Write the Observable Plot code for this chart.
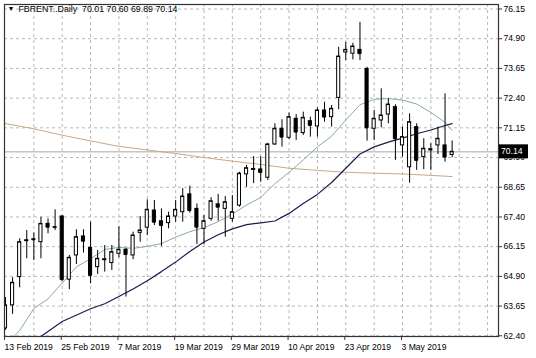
<!DOCTYPE html>
<html>
<head>
<meta charset="utf-8">
<script src="https://cdn.jsdelivr.net/npm/d3@7"></script>
<script src="https://cdn.jsdelivr.net/npm/@observablehq/plot@0.6"></script>
<style>
  html, body { margin: 0; padding: 0; background: #fff; overflow: hidden; }
  #chart { width: 536px; height: 358px; }
  #chart svg { display: block; }
</style>
</head>
<body>
<div id="chart"></div>
<script>
// ---- data ----
const titleText = "FBRENT..Daily  70.01 70.60 69.89 70.14";
const dateTickIdx = [0, 8, 16, 24, 32, 40, 48, 56];
const dateTickLabels = ["13 Feb 2019", "25 Feb 2019", "7 Mar 2019", "19 Mar 2019", "29 Mar 2019", "10 Apr 2019", "23 Apr 2019", "3 May 2019"];
const priceTicks = [62.40, 63.65, 64.90, 66.15, 67.40, 68.65, 69.90, 71.15, 72.40, 73.65, 74.90, 76.15];
const gridIdx = [4, 8, 12, 16, 20, 24, 28, 32, 36, 40, 44, 48, 52, 56, 60, 64, 68];
const lastPrice = 70.14;

const opens = [62.71, 63.68, 64.87, 66.38, 66.46, 66.34, 67.11, 66.95, 67.42, 64.76,
  65.78, 66.58, 66.10, 65.29, 65.58, 65.46, 65.85, 66.02, 65.78, 66.73,
  66.95, 67.67, 67.22, 67.14, 67.42, 67.60, 68.35, 67.74, 66.90, 67.32,
  67.93, 67.74, 67.32, 67.88, 69.19, 69.38, 69.40, 69.05, 70.45, 71.11,
  70.73, 71.53, 70.93, 71.43, 71.21, 71.88, 71.60, 72.41, 74.32, 74.27,
  74.43, 73.63, 71.11, 71.46, 71.71, 72.02, 70.41, 69.49, 71.18, 69.92,
  70.20, 70.41, 70.41, 70.01];
const highs = [64.01, 64.84, 66.48, 66.83, 66.72, 67.39, 67.32, 67.70, 67.45, 65.78,
  66.86, 66.86, 67.18, 65.99, 66.20, 66.20, 66.99, 66.08, 66.76, 67.42,
  68.12, 68.09, 67.74, 67.60, 68.09, 68.59, 68.70, 67.95, 67.46, 68.21,
  68.35, 68.26, 68.30, 69.28, 69.57, 69.94, 69.94, 70.50, 71.32, 71.49,
  71.77, 71.71, 71.81, 71.60, 71.99, 72.23, 72.09, 74.54, 74.75, 74.71,
  75.59, 73.70, 71.88, 72.79, 72.37, 72.12, 71.18, 71.74, 71.32, 70.69,
  70.48, 71.18, 72.58, 70.60];
const lows = [62.63, 63.30, 64.42, 65.64, 65.57, 65.64, 66.69, 66.83, 64.70, 64.34,
  65.40, 65.88, 64.59, 64.98, 65.08, 65.15, 65.68, 64.03, 65.60, 66.34,
  66.62, 67.04, 66.16, 66.90, 67.18, 67.18, 67.56, 66.24, 66.24, 67.22,
  67.22, 66.55, 67.18, 67.81, 68.65, 68.80, 68.86, 68.94, 70.41, 70.34,
  70.65, 70.62, 70.83, 70.76, 70.76, 71.39, 71.18, 71.91, 73.98, 74.01,
  73.98, 70.59, 70.62, 71.15, 71.32, 69.78, 69.92, 68.82, 69.36, 69.39,
  69.36, 70.03, 69.71, 69.89];
const closes = [63.68, 64.63, 66.34, 66.42, 66.44, 67.11, 66.97, 66.97, 64.76, 65.68,
  66.55, 66.38, 64.94, 65.64, 65.62, 65.92, 66.02, 65.82, 66.62, 66.83,
  67.70, 67.18, 67.04, 67.42, 67.70, 68.26, 67.67, 66.97, 67.22, 68.06,
  67.81, 68.02, 67.60, 69.22, 69.45, 69.42, 69.27, 70.45, 71.11, 70.76,
  71.60, 70.97, 71.57, 71.25, 71.88, 71.60, 71.95, 74.15, 74.43, 74.57,
  74.27, 71.15, 71.53, 71.67, 72.13, 70.69, 70.76, 71.39, 69.78, 70.27,
  70.25, 70.69, 69.92, 70.14];

// moving averages (sampled along the bars)
const tealIdx = [1, 2, 4, 6, 8, 10, 12, 14, 16, 18, 20, 22, 24, 26, 28, 30, 32, 34, 36, 38, 40, 42, 44, 46, 48, 50, 52, 54, 56, 58, 60, 62, 63];
const tealVal = [62.33, 62.62, 63.55, 63.95, 64.62, 65.30, 65.64, 66.03, 66.12, 66.08, 66.16, 66.28, 66.55, 66.78, 66.95, 67.20, 67.52, 67.90, 68.22, 68.80, 69.28, 69.80, 70.35, 70.80, 71.48, 72.12, 72.35, 72.38, 72.32, 72.15, 71.80, 71.38, 71.05];
const navyIdx = [4, 5, 8, 12, 14, 16, 18, 20, 22, 24, 26, 28, 30, 32, 34, 36, 38, 40, 42, 44, 46, 48, 50, 52, 54, 56, 58, 60, 62, 63];
const navyVal = [62.25, 62.37, 63.00, 63.54, 63.75, 64.05, 64.37, 64.72, 65.10, 65.50, 65.95, 66.35, 66.65, 66.90, 67.08, 67.15, 67.23, 67.55, 67.97, 68.35, 68.85, 69.45, 70.05, 70.35, 70.55, 70.72, 70.90, 71.06, 71.25, 71.33];
const tanIdx = [0, 4, 8, 12, 16, 20, 24, 28, 32, 36, 40, 44, 48, 52, 56, 60, 63];
const tanVal = [71.33, 71.11, 70.84, 70.60, 70.37, 70.22, 70.07, 69.90, 69.75, 69.61, 69.45, 69.36, 69.28, 69.24, 69.21, 69.15, 69.10];

// ---- build tables ----
const candles = opens.map((o, i) => ({i, open: o, high: highs[i], low: lows[i], close: closes[i]}));
const up = candles.filter(d => d.close >= d.open);
const down = candles.filter(d => d.close < d.open);
const teal = tealIdx.map((i, k) => ({i, v: tealVal[k]}));
const navy = navyIdx.map((i, k) => ({i, v: navyVal[k]}));
const tan = tanIdx.map((i, k) => ({i, v: tanVal[k]}));
const labelOf = new Map(dateTickIdx.map((i, k) => [i, dateTickLabels[k]]));

const FONT = "'Liberation Sans', Arial, sans-serif";
const hw = 0.22;
const plot = Plot.plot({
  width: 536,
  height: 358,
  marginLeft: 4,
  marginRight: 38,
  marginTop: 4,
  marginBottom: 22,
  style: {fontFamily: FONT, fontSize: "8.6px", color: "#000", background: "#fff"},
  x: {type: "linear", domain: [-0.14, 69.54], axis: null, label: null},
  y: {type: "linear", domain: [62.37, 76.34], axis: null, label: null},
  marks: [
    Plot.gridY(priceTicks, {stroke: "#b8b8b8", strokeOpacity: 1, strokeDasharray: "3,3"}),
    Plot.gridX(gridIdx, {stroke: "#b8b8b8", strokeOpacity: 1, strokeDasharray: "3,3"}),
    Plot.ruleY([lastPrice], {stroke: "#a9a9a9", strokeWidth: 1}),
    Plot.line(tan, {x: "i", y: "v", stroke: "#c6a888", strokeWidth: 1, clip: true}),
    Plot.line(teal, {x: "i", y: "v", stroke: "#86ad9d", strokeWidth: 1, clip: true}),
    Plot.line(navy, {x: "i", y: "v", stroke: "#1d1b4d", strokeWidth: 1.2, clip: true}),
    Plot.ruleX(candles, {x: "i", y1: "low", y2: "high", stroke: "#000", strokeWidth: 1, clip: true}),
    Plot.rect(up, {x1: d => d.i - hw, x2: d => d.i + hw, y1: "open", y2: "close", fill: "#fff", stroke: "#000", strokeWidth: 1, clip: true}),
    Plot.rect(down, {x1: d => d.i - hw, x2: d => d.i + hw, y1: "open", y2: "close", fill: "#000", stroke: "#000", strokeWidth: 1, clip: true}),
    Plot.ruleY(candles, {y: "close", x1: d => d.i - hw, x2: d => d.i + hw, stroke: "#000", strokeWidth: 1, clip: true}),
    Plot.frame({stroke: "#333", strokeWidth: 1.2}),
    Plot.axisX(dateTickIdx, {anchor: "bottom", label: null, tickSize: 4, tickPadding: 3, textAnchor: "start", dx: -1, tickFormat: i => labelOf.get(i), fontSize: 8.6, fill: "#000", stroke: "#333"}),
    Plot.axisY(priceTicks, {anchor: "right", label: null, tickSize: 3, tickPadding: 2, tickFormat: d => d.toFixed(2), fontSize: 8.6, fill: "#000", stroke: "#333"}),
    Plot.text(["▼"], {frameAnchor: "top-left", dx: 3, dy: 2, fontSize: 7, fill: "#000", lineAnchor: "top"}),
    Plot.text([titleText], {frameAnchor: "top-left", dx: 14, dy: 1, fontSize: 8.8, fill: "#000", lineAnchor: "top", textAnchor: "start"})
  ]
});

// drop Plot's warning glyph, if any
d3.select(plot).selectAll("text").filter(function() { return /\u26a0/.test(this.textContent); }).remove();

// last-price label box on the price axis
const yPx = plot.scale("y").apply(lastPrice);
const g = d3.select(plot).append("g");
g.append("rect").attr("x", 499).attr("y", yPx - 7).attr("width", 29).attr("height", 14).attr("fill", "#000");
g.append("text").attr("x", 501).attr("y", yPx).attr("dy", "0.35em")
  .attr("text-anchor", "start")
  .attr("fill", "#fff").attr("font-size", 8.6).attr("font-family", FONT)
  .text(lastPrice.toFixed(2));

document.getElementById("chart").appendChild(plot);
</script>
</body>
</html>
